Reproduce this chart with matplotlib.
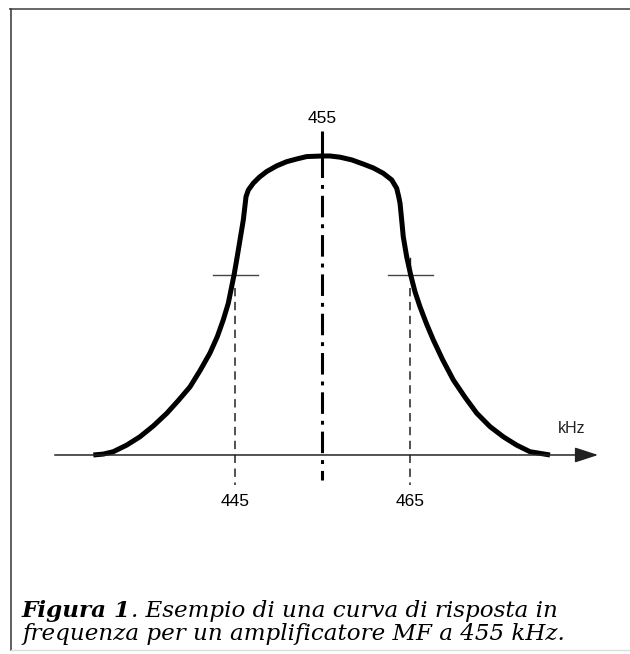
import matplotlib.pyplot as plt
from matplotlib.lines import Line2D

plt.rcParams['lines.scale_dashes'] = False

# response curve (kHz, relative amplitude)
freq_khz = [428.81, 429.95, 431.09, 432.62, 434.14, 435.66, 437.19, 438.52,
            439.86, 441.00, 442.14, 442.98, 443.66, 444.23, 444.62, 444.89,
            445.19, 445.57, 445.95, 446.26, 446.52, 447.09, 447.78, 448.62,
            449.77, 450.91, 452.05, 453.19, 455.0,
            455.86, 457.0, 458.34, 459.66, 460.81, 461.95, 462.91, 463.48,
            463.71, 463.86, 464.05, 464.23, 464.62, 465.08, 465.57, 466.14,
            466.91, 467.66, 468.74, 469.95, 471.29, 472.62, 474.14, 475.66,
            477.19, 478.71, 481.0]
response = [0.0, 0.003, 0.011, 0.033, 0.061, 0.097, 0.139, 0.182,
            0.228, 0.282, 0.341, 0.396, 0.452, 0.507, 0.563, 0.602,
            0.652, 0.719, 0.786, 0.864, 0.886, 0.909, 0.929, 0.948,
            0.967, 0.981, 0.990, 0.998, 1.0,
            1.0, 0.996, 0.987, 0.973, 0.960, 0.942, 0.920, 0.892,
            0.864, 0.842, 0.786, 0.730, 0.663, 0.602, 0.546, 0.496,
            0.437, 0.385, 0.318, 0.251, 0.193, 0.140, 0.095, 0.061,
            0.033, 0.011, 0.0]

center_khz = 455
band_edges = [445, 465]
band_level = 0.602
axis_range = [424.4, 486.5]

fig = plt.figure(figsize=(6.3, 6.54), dpi=100)
ax = fig.add_axes([0, 0, 1, 1])
ax.set_xlim(418.143, 490.143)
ax.set_ylim(-0.6656, 1.5217)
ax.axis('off')

# frequency axis with arrow
ax.annotate('', xy=(axis_range[1], 0), xytext=(axis_range[0], 0),
            arrowprops=dict(arrowstyle='-|>,head_length=0.4,head_width=0.13',
                            mutation_scale=36, lw=1.1, color='#222222',
                            shrinkA=0, shrinkB=0))
ax.text(axis_range[1] - 3.0, 0.09, 'kHz', ha='center', va='center',
        fontsize=11.5, family='Liberation Sans', color='#222222')

# centre line (dash-dot)
ax.plot([center_khz, center_khz], [1.0, -0.084], color='black', lw=2.2,
        linestyle=(0, (15.5, 5.0, 2.8, 5.0)), solid_capstyle='butt',
        dash_capstyle='butt')
ax.plot([center_khz, center_khz], [1.085, 1.0], color='black', lw=2.2,
        solid_capstyle='butt')
ax.text(center_khz, 1.126, str(center_khz), ha='center', va='center',
        fontsize=12.5, family='Liberation Sans')

# band edge markers
for f in band_edges:
    ax.plot([f, f], [0.56, -0.1], color='#222222', lw=1.1,
            linestyle=(0, (6.0, 4.0)))
    ax.plot([f, f], [0.66, 0.602], color='#222222', lw=1.0)
    ax.plot([f - 2.5, f + 2.6], [band_level, band_level],
            color='#444444', lw=1.0)
    ax.text(f, -0.154, str(f), ha='center', va='center',
            fontsize=12.5, family='Liberation Sans')

# response curve
ax.plot(freq_khz, response, color='black', lw=3.6,
        solid_capstyle='butt', solid_joinstyle='round')

# frame
fig.add_artist(Line2D([10 / 630, 1], [1 - 9 / 654, 1 - 9 / 654],
                      transform=fig.transFigure, color='#666666', lw=1.4))
fig.add_artist(Line2D([11 / 630, 11 / 630], [1 - 9 / 654, 1 - 650 / 654],
                      transform=fig.transFigure, color='#444444', lw=1.2))
fig.add_artist(Line2D([11 / 630, 1], [1 - 650 / 654, 1 - 650 / 654],
                      transform=fig.transFigure, color='#dddddd', lw=1.0))

# caption
cap = ['DejaVu Serif']
t1 = fig.text(22 / 630, 1 - 617 / 654, 'Figura 1', family=cap,
              style='italic', weight='bold', fontsize=16.6, va='baseline')
ax.annotate('. Esempio di una curva di risposta in', xy=(1, 0),
            xycoords=t1, va='bottom', ha='left', family=cap,
            style='italic', fontsize=16.6)
fig.text(22 / 630, 1 - 640 / 654,
         'frequenza per un amplificatore MF a 455 kHz.', family=cap,
         style='italic', fontsize=16.6, va='baseline')

fig.savefig('out.png', dpi=100, facecolor='white')
